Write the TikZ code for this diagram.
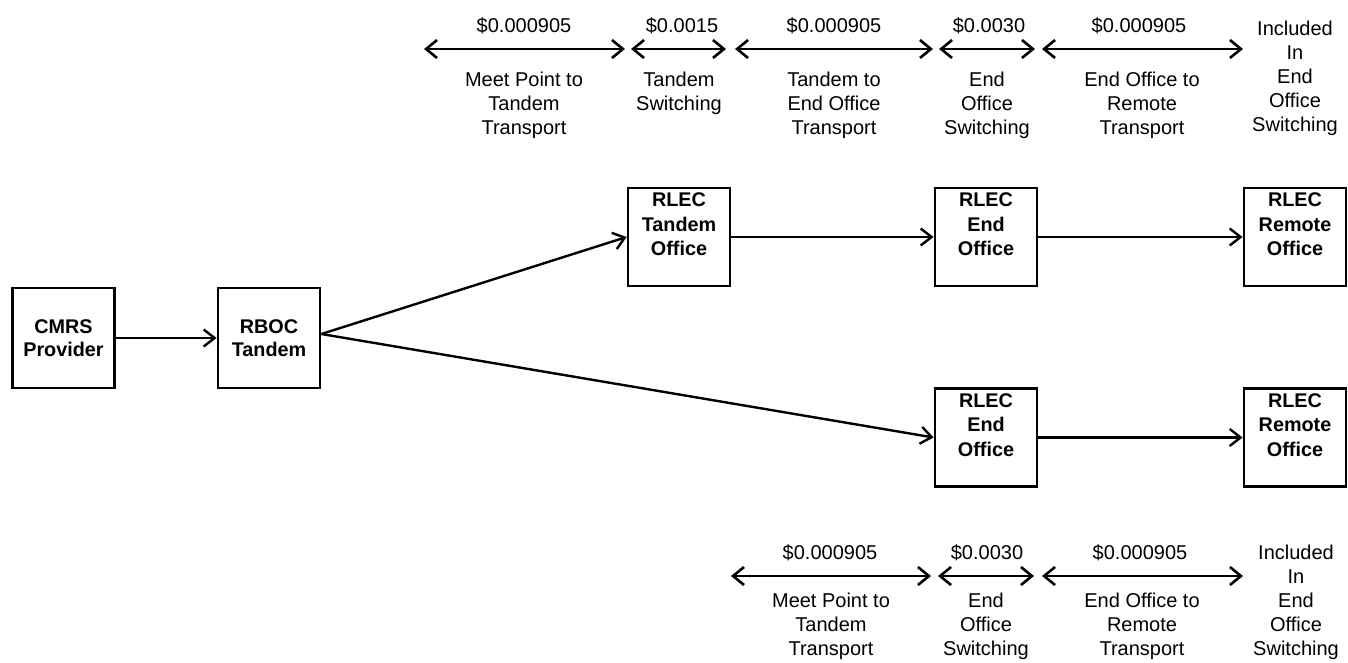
\documentclass[tikz,border=0pt]{standalone}
\usepackage{fontspec}
\setmainfont{Liberation Sans}
\usetikzlibrary{arrows.meta}
\begin{document}
\begin{tikzpicture}[x=1pt,y=-1pt,
  box/.style={draw, line width=2.8pt, minimum width=102pt, minimum height=98pt, inner sep=0pt, align=center, font=\fontsize{19.8}{23.5}\selectfont\bfseries},
  btxt/.style={anchor=north, inner sep=0pt, align=center, font=\fontsize{19.8}{24.5}\selectfont\bfseries},
  price/.style={anchor=base, inner sep=0pt, font=\fontsize{20}{24}\selectfont},
  lbl/.style={anchor=north, inner sep=0pt, align=center, font=\fontsize{20}{24}\selectfont},
  conn/.style={line width=2.4pt, -{Straight Barb[length=11pt,width=17pt]}},
  dbl/.style={line width=2.6pt, {Straight Barb[length=11pt,width=18pt]}-{Straight Barb[length=11pt,width=18pt]}}
]
\fill[white] (0,0) rectangle (1348,662);
\useasboundingbox (0,0) rectangle (1348,662);

% boxes
\node[box, minimum height=100pt] (cmrs) at (63.5,338) {CMRS\\Provider};
\node[box, minimum height=100pt] (rboc) at (269,338) {RBOC\\Tandem};
\node[box] (tand) at (679,237) {};
\node[box] (end1) at (986,237) {};
\node[box] (rem1) at (1295,237) {};
\node[box] (end2) at (986,437.5) {};
\node[box] (rem2) at (1295,437.5) {};
\node[btxt] (tandT) at ([yshift=-6pt]tand.north) {RLEC\\Tandem\\Office};
\node[btxt] (end1T) at ([yshift=-6pt]end1.north) {RLEC\\End\\Office};
\node[btxt] (rem1T) at ([yshift=-6pt]rem1.north) {RLEC\\Remote\\Office};
\node[btxt] (end2T) at ([yshift=-6pt]end2.north) {RLEC\\End\\Office};
\node[btxt] (rem2T) at ([yshift=-6pt]rem2.north) {RLEC\\Remote\\Office};

% connectors
\draw[conn] (cmrs) -- (rboc);
\coordinate (rbocOut) at ([yshift=4pt]rboc.east);
\draw[conn] (rbocOut) -- (tand.west);
\draw[conn] (rbocOut) -- (end2.west);
\draw[conn] (tand) -- (end1);
\draw[conn] (end1) -- (rem1);
\draw[conn] (end2) -- (rem2);

% top rate row
\coordinate (t1a) at (424,49);  \coordinate (t1b) at (625,49);
\coordinate (t2a) at (631,49);  \coordinate (t2b) at (726,49);
\coordinate (t3a) at (735,49);  \coordinate (t3b) at (933,49);
\coordinate (t4a) at (939,49);  \coordinate (t4b) at (1035,49);
\coordinate (t5a) at (1042,49); \coordinate (t5b) at (1243,49);
\draw[dbl] (t1a) -- (t1b);
\draw[dbl] (t2a) -- (t2b);
\draw[dbl] (t3a) -- (t3b);
\draw[dbl] (t4a) -- (t4b);
\draw[dbl] (t5a) -- (t5b);
\node[price] (tp1) at (524,32) {\$0.000905};
\node[price] (tp2) at (682,32) {\$0.0015};
\node[price] (tp3) at (834,32) {\$0.000905};
\node[price] (tp4) at (989,32) {\$0.0030};
\node[price] (tp5) at (1139,32) {\$0.000905};
\node[lbl] (tl1) at (524,72) {Meet Point to\\Tandem\\Transport};
\node[lbl] (tl2) at (679,72) {Tandem\\Switching};
\node[lbl] (tl3) at (834,72) {Tandem to\\End Office\\Transport};
\node[lbl] (tl4) at (987,72) {End\\Office\\Switching};
\node[lbl] (tl5) at (1142,72) {End Office to\\Remote\\Transport};
\node[lbl] (tl6) at (1295,21) {Included\\In\\End\\Office\\Switching};

% bottom rate row
\coordinate (b1a) at (731,576);  \coordinate (b1b) at (931,576);
\coordinate (b2a) at (938,576);  \coordinate (b2b) at (1034,576);
\coordinate (b3a) at (1042,576); \coordinate (b3b) at (1243,576);
\draw[dbl] (b1a) -- (b1b);
\draw[dbl] (b2a) -- (b2b);
\draw[dbl] (b3a) -- (b3b);
\node[price] (bp1) at (830,559) {\$0.000905};
\node[price] (bp2) at (987,559) {\$0.0030};
\node[price] (bp3) at (1140,559) {\$0.000905};
\node[lbl] (bl1) at (831,593) {Meet Point to\\Tandem\\Transport};
\node[lbl] (bl2) at (986,593) {End\\Office\\Switching};
\node[lbl] (bl3) at (1142,593) {End Office to\\Remote\\Transport};
\node[lbl] (bl6) at (1296,545) {Included\\In\\End\\Office\\Switching};
\end{tikzpicture}
\end{document}
